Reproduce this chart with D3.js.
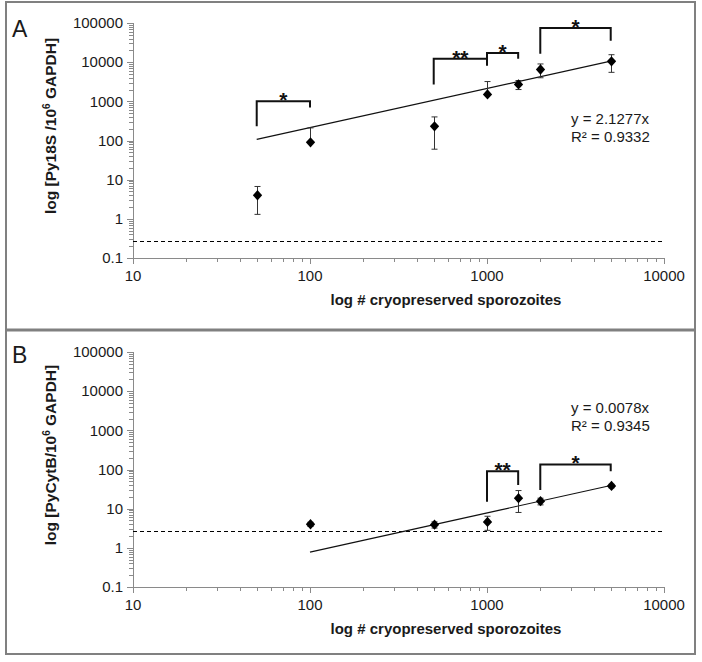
<!DOCTYPE html>
<html><head><meta charset="utf-8">
<script src="https://cdn.jsdelivr.net/npm/d3@7"></script>
<style>
body{margin:0;background:#fff;}
text{font-family:Arial,"Liberation Sans",sans-serif;}
</style></head><body>
<svg id="c" width="702" height="662"></svg>
<script>
// ---- data ----
const xTicks = [10, 100, 1000, 10000];
const yTicks = [0.1, 1, 10, 100, 1000, 10000, 100000];

// Panel A (Py18S)
const xA = [50, 100, 500, 1000, 1500, 2000, 5000];
const yA = [4, 90, 230, 1500, 2700, 6500, 10500];
const errA = [2.7, 120, 170, 1700, 700, 2500, 5000];
const slopeA = 2.1277;
const fitRangeA = [50, 5000];
const eqA = ["y = 2.1277x", "R² = 0.9332"];
const limitA = 0.27;
// brackets: [x1, x2, leftBottom, top, rightBottom, label]
const bracketsA = [
  [50, 100, 230, 1000, 700, "*"],
  [500, 1000, 2700, 12200, 8200, "**"],
  [1000, 1500, 8200, 17200, 12200, "*"],
  [2000, 5000, 16500, 74000, 35000, "*"]
];

// Panel B (PyCytB)
const xB = [100, 500, 1000, 1500, 2000, 5000];
const yB = [4, 3.9, 4.6, 18.5, 15.5, 38];
const errB = [0.5, 0.7, 1.8, 10.5, 3, 4];
const slopeB = 0.0078;
const fitRangeB = [100, 5000];
const eqB = ["y = 0.0078x", "R² = 0.9345"];
const limitB = 2.7;
const bracketsB = [
  [1000, 1500, 15, 90, 40, "**"],
  [2000, 5000, 30, 135, 90, "*"]
];

const svg = d3.select("#c");

// frame
svg.append("rect").attr("x", 6).attr("y", 2).attr("width", 689).attr("height", 652)
  .attr("fill", "none").attr("stroke", "#808080").attr("stroke-width", 2);
svg.append("line").attr("x1", 6).attr("x2", 695).attr("y1", 330).attr("y2", 330)
  .attr("stroke", "#808080").attr("stroke-width", 3);

function panel(offY, letter, ytitleMain, xs, ys, errs, slope, fitRange, eq, limit, brackets) {
  const g = svg.append("g").attr("transform", `translate(0,${offY})`);
  const x = d3.scaleLog().domain([10, 10000]).range([133, 664]);
  const y = d3.scaleLog().domain([0.1, 100000]).range([258, 23]);
  const axisColor = "#8a8a8a";

  // y axis
  g.append("line").attr("x1", 133.5).attr("x2", 133.5).attr("y1", y(100000)).attr("y2", y(0.1))
    .attr("stroke", axisColor).attr("stroke-width", 1);
  const yMinor = y.ticks().filter(v => !yTicks.some(t => Math.abs(t - v) / t < 1e-6));
  g.selectAll(".ymin").data(yMinor).enter().append("line")
    .attr("x1", 129).attr("x2", 133).attr("y1", d => Math.round(y(d)) + 0.5).attr("y2", d => Math.round(y(d)) + 0.5)
    .attr("stroke", axisColor);
  g.selectAll(".ymaj").data(yTicks).enter().append("line")
    .attr("x1", 127).attr("x2", 133).attr("y1", d => Math.round(y(d)) + 0.5).attr("y2", d => Math.round(y(d)) + 0.5)
    .attr("stroke", axisColor);
  g.selectAll(".ylab").data(yTicks).enter().append("text")
    .attr("x", 123).attr("y", d => y(d)).attr("dy", "0.35em").attr("text-anchor", "end")
    .attr("font-size", 15).attr("fill", "#1a1a1a")
    .text(d => d < 1 ? String(d) : d3.format("d")(d));

  // x axis
  g.append("line").attr("x1", x(10)).attr("x2", x(10000)).attr("y1", 258.5).attr("y2", 258.5)
    .attr("stroke", axisColor).attr("stroke-width", 1);
  const xMinor = x.ticks().filter(v => !xTicks.some(t => Math.abs(t - v) / t < 1e-6));
  g.selectAll(".xmin").data(xMinor).enter().append("line")
    .attr("x1", d => Math.round(x(d)) + 0.5).attr("x2", d => Math.round(x(d)) + 0.5).attr("y1", 258).attr("y2", 262)
    .attr("stroke", axisColor);
  g.selectAll(".xmaj").data(xTicks).enter().append("line")
    .attr("x1", d => Math.round(x(d)) + 0.5).attr("x2", d => Math.round(x(d)) + 0.5).attr("y1", 258).attr("y2", 264)
    .attr("stroke", axisColor);
  g.selectAll(".xlab").data(xTicks).enter().append("text")
    .attr("x", d => x(d)).attr("y", 281).attr("text-anchor", "middle")
    .attr("font-size", 15).attr("fill", "#1a1a1a").text(d => d3.format("d")(d));

  // titles
  g.append("text").attr("x", 446).attr("y", 305).attr("text-anchor", "middle")
    .attr("font-size", 15).attr("font-weight", "bold").attr("fill", "#1a1a1a")
    .text("log # cryopreserved sporozoites");
  const yt = g.append("text").attr("transform", "translate(56,126) rotate(-90)")
    .attr("text-anchor", "middle").attr("font-size", 15.5).attr("font-weight", "bold").attr("fill", "#1a1a1a");
  yt.append("tspan").text(ytitleMain[0]);
  yt.append("tspan").attr("dy", -6).attr("font-size", 10).text("6");
  yt.append("tspan").attr("dy", 6).text(ytitleMain[1]);

  g.append("text").attr("x", 12).attr("y", letter === "A" ? 37 : 34).attr("font-size", 23)
    .attr("fill", "#1a1a1a").text(letter);

  // dashed limit line
  const ly = Math.round(y(limit)) + 0.5;
  g.append("line").attr("x1", x(10)).attr("x2", x(10000)).attr("y1", ly).attr("y2", ly)
    .attr("stroke", "#000").attr("stroke-width", 1).attr("stroke-dasharray", "4,3");

  // trendline
  const fitPts = fitRange.map(v => [v, slope * v]);
  g.append("path").datum(fitPts)
    .attr("d", d3.line().x(d => x(d[0])).y(d => y(d[1])))
    .attr("fill", "none").attr("stroke", "#111").attr("stroke-width", 1.2);

  // error bars
  const pts = xs.map((v, i) => ({x: v, y: ys[i], e: errs[i]}));
  pts.forEach(p => {
    const hi = p.y + p.e, lo = p.y - p.e;
    const cx = Math.round(x(p.x)) + 0.5;
    g.append("line").attr("x1", cx).attr("x2", cx).attr("y1", y(p.y)).attr("y2", y(hi))
      .attr("stroke", "#333").attr("stroke-width", 1);
    g.append("line").attr("x1", cx - 3).attr("x2", cx + 3).attr("y1", y(hi)).attr("y2", y(hi))
      .attr("stroke", "#333").attr("stroke-width", 1);
    if (lo > 0) {
      g.append("line").attr("x1", cx).attr("x2", cx).attr("y1", y(p.y)).attr("y2", y(lo))
        .attr("stroke", "#333").attr("stroke-width", 1);
      g.append("line").attr("x1", cx - 3).attr("x2", cx + 3).attr("y1", y(lo)).attr("y2", y(lo))
        .attr("stroke", "#333").attr("stroke-width", 1);
    }
  });
  // markers
  const sym = d3.symbol().type(d3.symbolSquare).size(48);
  g.selectAll(".pt").data(pts).enter().append("path")
    .attr("d", sym)
    .attr("transform", d => `translate(${Math.round(x(d.x)) + 0.5},${y(d.y)}) scale(0.95,1.05) rotate(45)`)
    .attr("fill", "#000");

  // brackets
  brackets.forEach(b => {
    const [x1, x2, lb, top, rb, lab] = b;
    g.append("path")
      .attr("d", `M${x(x1)},${y(lb)}V${y(top)}H${x(x2)}V${y(rb)}`)
      .attr("fill", "none").attr("stroke", "#111").attr("stroke-width", 2);
    g.append("text").attr("x", (x(x1) + x(x2)) / 2).attr("y", y(top) + 6)
      .attr("text-anchor", "middle").attr("font-size", 21).attr("font-weight", "bold")
      .attr("fill", "#111").text(lab);
  });

  // equation
  eq.forEach((t, i) => {
    g.append("text").attr("x", 571).attr("y", 124 + i * 18 - (letter === "B" ? 40 : 0))
      .attr("font-size", 15).attr("fill", "#1a1a1a").text(t);
  });
}

panel(0, "A", ["log [Py18S /10", " GAPDH]"], xA, yA, errA, slopeA, fitRangeA, eqA, limitA, bracketsA);
panel(329, "B", ["log [PyCytB/10", " GAPDH]"], xB, yB, errB, slopeB, fitRangeB, eqB, limitB, bracketsB);
</script>
</body></html>
